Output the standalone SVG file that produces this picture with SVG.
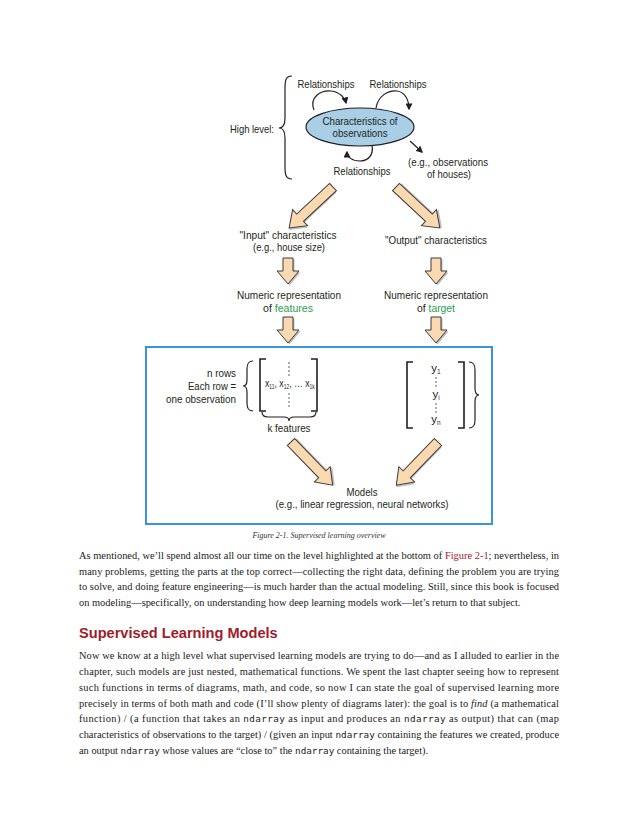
<svg xmlns="http://www.w3.org/2000/svg" width="638" height="826" viewBox="0 0 638 826">
<style>
.d{font-family:"Liberation Sans",Arial,sans-serif;font-size:11.5px;fill:#231f20}
.m{text-anchor:middle}
.e{text-anchor:end}
.g{fill:#2e9b4f}
.ln{fill:none;stroke:#231f20;stroke-width:1.2}
.br{fill:none;stroke:#231f20;stroke-width:1.6}
.fat{fill:#fbd9b0;stroke:#3a3a3a;stroke-width:1}
.sh{fill:#8a8a8a;opacity:.55}
.b{font-family:"Liberation Serif","Times New Roman",serif;font-size:10.4px;fill:#1a1a1a}
.mono{font-family:"DejaVu Sans Mono","Liberation Mono",monospace;font-size:9.3px}
.dot{fill:#231f20}
</style>
<defs>
<marker id="ah" viewBox="0 0 10 10" refX="8" refY="5" markerWidth="7" markerHeight="7" orient="auto" markerUnits="userSpaceOnUse">
<path d="M0,0 L10,5 L0,10 Z" fill="#231f20"/>
</marker>
<path id="fatL" d="M-5,0 H5 V45 H11 L0,60 L-11,45 H-5 Z"/>
<path id="fatS" d="M-5,0 H5 V13 H11 L0,26 L-11,13 H-5 Z"/>
</defs>

<g id="connectors">
<path class="ln" d="M314,110 C309,97 321,90 331,91 C340,92 345,98 346,103" marker-end="url(#ah)"/>
<path class="ln" d="M376,108 C378,96 388,90 397,91 C405,92 409,100 409,109" marker-end="url(#ah)"/>
<path class="ln" d="M372,145 C374,155 368,161 360,161 C352,161 347,157 347,152" marker-end="url(#ah)"/>
<path class="ln" d="M410,141 L422,152" marker-end="url(#ah)"/>
<g transform="translate(333,187) rotate(47)"><use href="#fatL" class="sh" x="1.5" y="1.5"/><use href="#fatL" class="fat"/></g>
<g transform="translate(396,187) rotate(-47)"><use href="#fatL" class="sh" x="1.5" y="1.5"/><use href="#fatL" class="fat"/></g>
<g transform="translate(288,258)"><use href="#fatS" class="sh" x="1.5" y="1.5"/><use href="#fatS" class="fat"/></g>
<g transform="translate(436,258)"><use href="#fatS" class="sh" x="1.5" y="1.5"/><use href="#fatS" class="fat"/></g>
<g transform="translate(288,317)"><use href="#fatS" class="sh" x="1.5" y="1.5"/><use href="#fatS" class="fat"/></g>
<g transform="translate(436,317)"><use href="#fatS" class="sh" x="1.5" y="1.5"/><use href="#fatS" class="fat"/></g>
<g transform="translate(291,442) rotate(-44)"><use href="#fatL" class="sh" x="1.5" y="1.5"/><use href="#fatL" class="fat"/></g>
<g transform="translate(438,442) rotate(44)"><use href="#fatL" class="sh" x="1.5" y="1.5"/><use href="#fatL" class="fat"/></g>
</g>

<g id="high-level">
<text class="d e" x="274" y="133" textLength="44" lengthAdjust="spacingAndGlyphs">High level:</text>
<path class="ln" d="M292,76 C286,76 285,80 285,88 L285,118 C285,125 283,128 279,128 C283,128 285,131 285,138 L285,167 C285,175 286,179 292,179"/>
</g>

<g id="observations">
<ellipse cx="360" cy="127" rx="54" ry="19" fill="#a8cfe6" stroke="#231f20" stroke-width="1.2"/>
<text class="d m" x="360" y="125" textLength="75" lengthAdjust="spacingAndGlyphs">Characteristics of</text>
<text class="d m" x="360" y="137" textLength="55" lengthAdjust="spacingAndGlyphs">observations</text>
</g>

<g id="rel-labels">
<text class="d m" x="326" y="88" textLength="57" lengthAdjust="spacingAndGlyphs">Relationships</text>
<text class="d m" x="398" y="88" textLength="57" lengthAdjust="spacingAndGlyphs">Relationships</text>
<text class="d m" x="362" y="175" textLength="57" lengthAdjust="spacingAndGlyphs">Relationships</text>
<text class="d" x="408" y="166" textLength="80" lengthAdjust="spacingAndGlyphs">(e.g., observations</text>
<text class="d e" x="471" y="178" textLength="44" lengthAdjust="spacingAndGlyphs">of houses)</text>
</g>

<g id="input-char">
<text class="d m" x="288" y="239" textLength="97" lengthAdjust="spacingAndGlyphs">"Input" characteristics</text>
<text class="d m" x="289" y="251" textLength="72" lengthAdjust="spacingAndGlyphs">(e.g., house size)</text>
</g>
<g id="output-char">
<text class="d m" x="436" y="244" textLength="102" lengthAdjust="spacingAndGlyphs">"Output" characteristics</text>
</g>
<g id="numeric-features">
<text class="d m" x="289" y="299" textLength="104" lengthAdjust="spacingAndGlyphs">Numeric representation</text>
<text class="d m" x="288" y="312" textLength="50" lengthAdjust="spacingAndGlyphs">of <tspan class="g">features</tspan></text>
</g>
<g id="numeric-target">
<text class="d m" x="436" y="299" textLength="104" lengthAdjust="spacingAndGlyphs">Numeric representation</text>
<text class="d m" x="436" y="312" textLength="38" lengthAdjust="spacingAndGlyphs">of <tspan class="g">target</tspan></text>
</g>

<g id="modeling-box">
<rect x="146" y="347" width="346" height="177" fill="none" stroke="#3d93d8" stroke-width="2"/>
</g>

<g id="feature-matrix">
<text class="d e" x="236" y="377" textLength="29" lengthAdjust="spacingAndGlyphs">n rows</text>
<text class="d e" x="236" y="390" textLength="48" lengthAdjust="spacingAndGlyphs">Each row =</text>
<text class="d e" x="236" y="403" textLength="70" lengthAdjust="spacingAndGlyphs">one observation</text>
<path class="ln" d="M253,361 C248,361 247,364 247,369 L247,380 C247,384 246,386 243,386 C246,386 247,388 247,392 L247,403 C247,408 248,411 253,411"/>
<path class="br" d="M266,359 H260 V411 H266"/>
<path class="br" d="M311,359 H317 V411 H311"/>
<circle class="dot" cx="289" cy="363" r="0.7"/><circle class="dot" cx="289" cy="367" r="0.7"/><circle class="dot" cx="289" cy="371" r="0.7"/><circle class="dot" cx="289" cy="375" r="0.7"/>
<circle class="dot" cx="289" cy="394" r="0.7"/><circle class="dot" cx="289" cy="398" r="0.7"/><circle class="dot" cx="289" cy="402" r="0.7"/><circle class="dot" cx="289" cy="406" r="0.7"/>
<text class="d" transform="translate(265,387) scale(0.76,1)" x="0" y="0" font-size="10.5">x<tspan font-size="6.5" dy="2">11</tspan><tspan dy="-2">, x</tspan><tspan font-size="6.5" dy="2">12</tspan><tspan dy="-2">, … x</tspan><tspan font-size="6.5" dy="2">1k</tspan></text>
<path class="ln" d="M262,412 C262,416 264,417 268,417 H284 C287,417 289,418 289,421 C289,418 291,417 294,417 H310 C314,417 316,416 316,412"/>
<text class="d m" x="289" y="432" textLength="43" lengthAdjust="spacingAndGlyphs">k features</text>
</g>

<g id="target-vector">
<path class="br" d="M413,362 H407 V428 H413"/>
<path class="br" d="M458,362 H464 V428 H458"/>
<path class="ln" d="M469,362 C474,362 475,365 475,370 L475,388 C475,393 476,395 479,395 C476,395 475,397 475,402 L475,420 C475,425 474,428 469,428"/>
<text class="d m" x="436" y="372">y<tspan font-size="6.5" dy="2">1</tspan></text>
<circle class="dot" cx="436" cy="378" r="0.7"/><circle class="dot" cx="436" cy="382" r="0.7"/><circle class="dot" cx="436" cy="386" r="0.7"/>
<text class="d m" x="436" y="398">y<tspan font-size="6.5" dy="2">i</tspan></text>
<circle class="dot" cx="436" cy="404" r="0.7"/><circle class="dot" cx="436" cy="408" r="0.7"/><circle class="dot" cx="436" cy="412" r="0.7"/>
<text class="d m" x="436" y="423">y<tspan font-size="6.5" dy="2">n</tspan></text>
</g>

<g id="models">
<text class="d m" x="362" y="496" textLength="31" lengthAdjust="spacingAndGlyphs">Models</text>
<text class="d m" x="362" y="508" textLength="173" lengthAdjust="spacingAndGlyphs">(e.g., linear regression, neural networks)</text>
</g>

<text x="319" y="538" text-anchor="middle" font-family="Liberation Serif,serif" font-style="italic" font-size="8" fill="#333">Figure 2-1. Supervised learning overview</text>

<g id="body">
<text class="b" x="79" y="559" textLength="480" lengthAdjust="spacing">As mentioned, we’ll spend almost all our time on the level highlighted at the bottom of <tspan fill="#a3192e">Figure 2-1</tspan>; nevertheless, in</text>
<text class="b" x="79" y="575" textLength="480" lengthAdjust="spacing">many problems, getting the parts at the top correct—collecting the right data, defining the problem you are trying</text>
<text class="b" x="79" y="590" textLength="480" lengthAdjust="spacing">to solve, and doing feature engineering—is much harder than the actual modeling. Still, since this book is focused</text>
<text class="b" x="79" y="606">on modeling—specifically, on understanding how deep learning models work—let’s return to that subject.</text>
<text x="79" y="638" font-family="Liberation Sans,Arial,sans-serif" font-weight="bold" font-size="14.6" fill="#a01c2a">Supervised Learning Models</text>
<text class="b" x="79" y="659" textLength="480" lengthAdjust="spacing">Now we know at a high level what supervised learning models are trying to do—and as I alluded to earlier in the</text>
<text class="b" x="79" y="675" textLength="480" lengthAdjust="spacing">chapter, such models are just nested, mathematical functions. We spent the last chapter seeing how to represent</text>
<text class="b" x="79" y="691" textLength="480" lengthAdjust="spacing">such functions in terms of diagrams, math, and code, so now I can state the goal of supervised learning more</text>
<text class="b" x="79" y="707" textLength="480" lengthAdjust="spacing">precisely in terms of both math and code (I’ll show plenty of diagrams later): the goal is to <tspan font-style="italic">find</tspan> (a mathematical</text>
<text class="b" x="79" y="722" textLength="480" lengthAdjust="spacing">function) / (a function that takes an <tspan class="mono">ndarray</tspan> as input and produces an <tspan class="mono">ndarray</tspan> as output) that can (map</text>
<text class="b" x="79" y="738" textLength="480" lengthAdjust="spacing">characteristics of observations to the target) / (given an input <tspan class="mono">ndarray</tspan> containing the features we created, produce</text>
<text class="b" x="79" y="754">an output <tspan class="mono">ndarray</tspan> whose values are “close to” the <tspan class="mono">ndarray</tspan> containing the target).</text>
</g>
</svg>
